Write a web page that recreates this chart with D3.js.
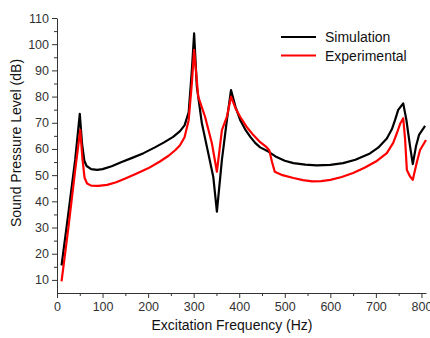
<!DOCTYPE html>
<html>
<head>
<meta charset="utf-8">
<script src="https://cdn.jsdelivr.net/npm/d3@7"></script>
<style>
    body { margin: 0; background: #fff; }
    svg { display: block; font-family: "Liberation Sans", Arial, sans-serif; }
</style>
</head>
<body>
<div id="wrapper"></div>
<script>

// simulation curve (Hz, dB)
const simFreq  = [10, 25, 40, 50, 55, 60, 65, 75, 88, 100, 120, 142, 165, 190, 215, 235, 255, 270, 280, 289, 296, 301, 307, 318, 332, 343, 351, 362, 373, 382, 392, 402, 413, 424, 435, 446, 464, 482, 500, 519, 545, 570, 600, 628, 655, 687, 705, 724, 735, 742, 749, 760, 767, 775, 781, 788, 795, 808];
const simLevel = [15.5, 35.5, 56, 73.4, 62, 55.5, 53.5, 52.3, 52, 52.3, 53.4, 55, 56.6, 58.4, 60.6, 62.5, 64.6, 66.8, 69, 74, 90, 104.1, 83.8, 69.8, 58.4, 49.4, 36.1, 55.8, 71.1, 82.5, 76, 71.1, 67.5, 64.7, 62.3, 60.6, 59, 56.9, 55.5, 54.6, 54, 53.7, 53.9, 54.6, 55.9, 58.3, 60.5, 64, 67.5, 71, 74.9, 77.4, 71, 61, 54.2, 61, 65.5, 68.8];

// experimental curve (Hz, dB)
const expFreq  = [10, 25, 40, 51, 56, 60.5, 66, 75, 91, 110, 130, 150, 175, 200, 225, 245, 260, 270, 280, 289, 296, 301, 310, 325, 340, 351, 362, 373, 382, 392, 402, 416, 431, 446, 458, 466, 472, 478, 495, 519, 540, 560, 580, 600, 625, 650, 675, 700, 724, 738, 746, 753, 760, 764, 768, 775, 781, 790, 797, 810];
const expLevel = [9.4, 30, 52, 67.3, 56, 49, 46.8, 46, 45.9, 46.3, 47.3, 48.7, 50.6, 52.6, 55.1, 57.4, 59.6, 61.4, 64.5, 71, 85, 97.8, 80, 72.3, 62.2, 51.3, 67.2, 72.3, 80, 75.5, 72.3, 68.5, 65.3, 62.6, 61, 59.5, 55, 51.3, 50, 48.9, 48.1, 47.6, 47.7, 48.2, 49.3, 50.8, 52.8, 55.2, 58.4, 62.3, 66, 69.5, 71.7, 64, 52, 49.5, 48.2, 55, 59.6, 63.4];

const seriesNames = ["Simulation", "Experimental"];
const seriesColors = ["#000000", "#ff0000"];

const xTicks = [0, 100, 200, 300, 400, 500, 600, 700, 800];
const yTicks = [10, 20, 30, 40, 50, 60, 70, 80, 90, 100, 110];

function drawChart() {

    const dms = {
        width: 430,
        height: 338,
        margins: { top: 18, right: 4, bottom: 45, left: 57 }
    };
    dms.innerWidth = dms.width - dms.margins.left - dms.margins.right;
    dms.innerHeight = dms.height - dms.margins.top - dms.margins.bottom;

    const wrapper = d3.select("#wrapper")
        .append("svg")
            .attr("width", dms.width)
            .attr("height", dms.height);

    const inner = wrapper.append("g")
        .attr("transform", `translate(${dms.margins.left},${dms.margins.top})`);

    // scales
    const xScale = d3.scaleLinear()
        .domain([0, 810])
        .range([0, 369]);

    const yScale = d3.scaleLinear()
        .domain([5, 110])
        .range([dms.innerHeight, 0]);

    inner.append("clipPath")
        .attr("id", "plot-clip")
        .append("rect")
            .attr("width", dms.innerWidth + 2)
            .attr("height", dms.innerHeight);

    // lines
    const lineGen = d3.line()
        .x(d => xScale(d[0]))
        .y(d => yScale(d[1]));

    const simData = simFreq.map((f, i) => [f, simLevel[i]]);
    const expData = expFreq.map((f, i) => [f, expLevel[i]]);

    [simData, expData].forEach((data, i) => {
        inner.append("path")
            .datum(data)
            .attr("clip-path", "url(#plot-clip)")
            .attr("fill", "none")
            .attr("stroke", seriesColors[i])
            .attr("stroke-width", 2.2)
            .attr("stroke-linejoin", "round")
            .attr("d", lineGen);
    });

    // axes
    const xAxis = inner.append("g")
        .attr("transform", `translate(0,${dms.innerHeight})`)
        .call(d3.axisBottom(xScale).tickValues(xTicks).tickSize(5).tickSizeOuter(0).tickPadding(4));

    inner.append("g")
        .attr("transform", `translate(0,${dms.innerHeight})`)
        .call(d3.axisBottom(xScale).tickValues(d3.range(50, 810, 100)).tickSize(3).tickFormat(""))
        .call(g => g.select(".domain").remove());

    const yAxis = inner.append("g")
        .call(d3.axisLeft(yScale).tickValues(yTicks).tickSize(5).tickSizeOuter(0).tickPadding(3));

    inner.append("g")
        .call(d3.axisLeft(yScale).tickValues(d3.range(15, 110, 10)).tickSize(3).tickFormat(""))
        .call(g => g.select(".domain").remove());

    inner.selectAll(".domain, .tick line")
        .attr("stroke", "#333")
        .attr("stroke-width", 1);

    [xAxis, yAxis].forEach(ax => ax.selectAll("text")
        .attr("fill", "#333")
        .style("font-size", "12.5px")
        .style("font-family", "'Liberation Sans', Arial, sans-serif"));

    // axis titles
    wrapper.append("text")
        .attr("x", 232)
        .attr("y", 330)
        .attr("text-anchor", "middle")
        .attr("fill", "#111")
        .style("font-size", "14px")
        .text("Excitation Frequency (Hz)");

    wrapper.append("text")
        .attr("transform", "translate(21,143) rotate(-90)")
        .attr("text-anchor", "middle")
        .attr("fill", "#111")
        .style("font-size", "14px")
        .text("Sound Pressure Level (dB)");

    // legend
    const legend = wrapper.append("g")
        .attr("transform", "translate(281,37)");

    seriesNames.forEach((name, i) => {
        const row = legend.append("g")
            .attr("transform", `translate(0,${i * 18.5})`);
        row.append("line")
            .attr("x1", 0)
            .attr("x2", 35)
            .attr("stroke", seriesColors[i])
            .attr("stroke-width", 2.2);
        row.append("text")
            .attr("x", 44)
            .attr("y", 5)
            .attr("fill", "#111")
            .style("font-size", "14px")
            .text(name);
    });
}

drawChart();
</script>
</body>
</html>
